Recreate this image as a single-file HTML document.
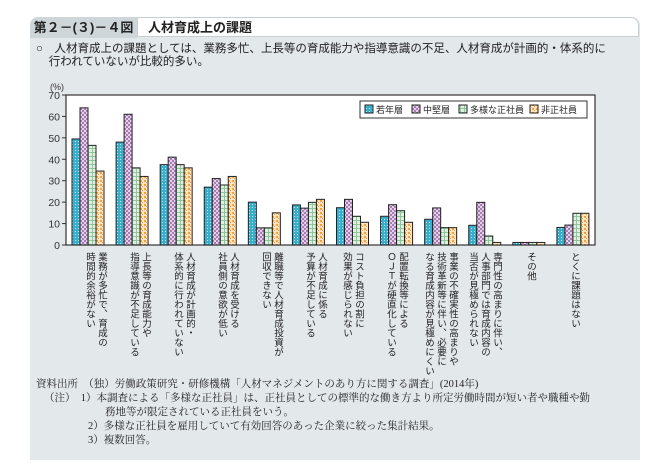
<!DOCTYPE html>
<html><head><meta charset="utf-8"><style>
body{margin:0;width:665px;height:475px;background:#fff;font-family:"Liberation Sans","Noto Sans CJK JP",sans-serif;position:relative;overflow:hidden}
#panel{position:absolute;left:30px;top:17px;width:610px;height:443px;background:#e3e8eb;border-radius:8px 8px 0 0}
#hdr{position:absolute;left:30px;top:17px;width:610px;height:21px}
#hdr .num{position:absolute;left:0;top:0;width:107px;height:21px;background:#cfd6da;font-size:13px;font-weight:bold;line-height:21px;text-align:center;color:#222;border-radius:8px 0 0 0}
#hdr .ttl{position:absolute;left:107px;top:0;width:502px;height:20px;background:#fff;border:1px solid #c8cfd3;border-radius:0 8px 0 0;font-size:13px;font-weight:bold;line-height:20px;padding-left:10px;box-sizing:border-box;color:#222}
.sum{position:absolute;left:36px;top:43px;font-size:11.5px;line-height:13px;color:#222}
.xl{position:absolute;top:252px;writing-mode:vertical-rl;font-size:9.5px;line-height:12px;letter-spacing:0px;color:#222;white-space:nowrap}
.foot{position:absolute;font-family:"Liberation Serif","Noto Serif CJK JP",serif;font-size:10.5px;color:#222;white-space:nowrap}
</style></head><body>
<div id="panel"></div>
<div id="hdr"><div class="num">第２－(３)－４図</div><div class="ttl">人材育成上の課題</div></div>
<div class="sum">○　人材育成上の課題としては、業務多忙、上長等の育成能力や指導意識の不足、人材育成が計画的・体系的に<br>&nbsp;&nbsp;&nbsp;&nbsp;行われていないが比較的多い。</div>
<svg id="chart" width="665" height="475" style="position:absolute;left:0;top:0">
<defs>
<pattern id="p0" width="3" height="3" patternUnits="userSpaceOnUse"><rect width="3" height="3" fill="#3aaecb"/><rect width="1" height="1" fill="#bfe6ee"/></pattern>
<pattern id="p1" width="4" height="4" patternUnits="userSpaceOnUse"><rect width="4" height="4" fill="#e3d0e8"/><rect width="2" height="2" fill="#a77db3"/><rect x="2" y="2" width="2" height="2" fill="#a77db3"/></pattern>
<pattern id="p2" width="4" height="4" patternUnits="userSpaceOnUse"><rect width="4" height="4" fill="#dff0e2"/><rect width="4" height="1" fill="#8fc79b"/><rect width="1" height="4" fill="#8fc79b"/></pattern>
<pattern id="p3" width="4" height="4" patternUnits="userSpaceOnUse"><rect width="4" height="4" fill="#fde3c0"/><rect width="2" height="2" fill="#f5a23e"/><rect x="2" y="2" width="1" height="1" fill="#f5a23e"/></pattern>
</defs>
<rect x="66" y="95" width="529" height="150" fill="#fff" stroke="#333" stroke-width="1.2"/>
<g id="axis"></g><g id="bars"></g>
<text x="50" y="90" font-size="9" fill="#333">(%)</text>
<g>
<rect x="360" y="101" width="227" height="17" fill="#fff" stroke="#333"/>
<g id="leg"></g>
</g>
</svg>
<div class="xl" style="left:83px">業務が多忙で、育成の<br>時間的余裕がない</div>
<div class="xl" style="left:127px">上長等の育成能力や<br>指導意識が不足している</div>
<div class="xl" style="left:171px">人材育成が計画的・<br>体系的に行われていない</div>
<div class="xl" style="left:215px">人材育成を受ける<br>社員側の意欲が低い</div>
<div class="xl" style="left:259px">離職等で人材育成投資が<br>回収できない</div>
<div class="xl" style="left:303px">人材育成に係る<br>予算が不足している</div>
<div class="xl" style="left:340px">コスト負担の割に<br>効果が感じられない</div>
<div class="xl" style="left:384px">配置転換等による<br>ＯＪＴが硬直化している</div>
<div class="xl" style="left:422px">事業の不確実性の高まりや<br>技術革新等に伴い、必要に<br>なる育成内容が見極めにくい</div>
<div class="xl" style="left:466px">専門性の高まりに伴い、<br>人事部門では育成内容の<br>当否が見極められない</div>
<div class="xl" style="left:524px">その他</div>
<div class="xl" style="left:568px">とくに課題はない</div>
<div class="foot" style="left:36px;top:376px">資料出所　（独）労働政策研究・研修機構「人材マネジメントのあり方に関する調査」(2014年)</div>
<div class="foot" style="left:44px;top:390px">（注）　1）本調査による「多様な正社員」は、正社員としての標準的な働き方より所定労働時間が短い者や職種や勤</div>
<div class="foot" style="left:105px;top:404px">務地等が限定されている正社員をいう。</div>
<div class="foot" style="left:88px;top:418px">2）多様な正社員を雇用していて有効回答のあった企業に絞った集計結果。</div>
<div class="foot" style="left:88px;top:432px">3）複数回答。</div>
<script>
const categories=["業務多忙","上長等の育成能力","計画的・体系的","社員側の意欲","離職等","予算不足","コスト負担","配置転換","事業の不確実性","専門性の高まり","その他","とくに課題はない"];
const seriesNames=["若年層","中堅層","多様な正社員","非正社員"];
const young=[49.5,48,37.5,27,20,18.7,17.4,13.4,12,9.2,1.2,8.2];
const mid=[64,61,41,31,8,17.2,21.3,18.8,17.3,19.9,1.2,9.3];
const diverse=[46.5,36,37.5,28,8,19.9,13.4,16,8.1,4.2,1.2,14.8];
const nonreg=[34.5,32,36,32,15,21.3,10.6,10.6,8.1,1.2,1.2,14.8];
const yTicks=[0,10,20,30,40,50,60,70];
const series=[young,mid,diverse,nonreg];
const NS="http://www.w3.org/2000/svg";
const x0=66,x1=595,yTop=95,yBot=245,yMax=70;
const y=v=>yBot-(v/yMax)*(yBot-yTop);
const gw=(x1-x0)/categories.length;
const bw=8;
const xb=(i,j)=>x0+i*gw+6+j*bw;
const ax=document.getElementById('axis');
yTicks.forEach(t=>{
 const l=document.createElementNS(NS,'line');
 l.setAttribute('x1',x0-4);l.setAttribute('x2',x0);l.setAttribute('y1',y(t));l.setAttribute('y2',y(t));l.setAttribute('stroke','#333');
 
 
 ax.appendChild(l);
 const tx=document.createElementNS(NS,'text');
 tx.setAttribute('x',x0-6);tx.setAttribute('y',y(t)+4);tx.setAttribute('text-anchor','end');tx.setAttribute('font-size','10.5');tx.setAttribute('fill','#333');
 tx.textContent=t;
 
 
 ax.appendChild(tx);
});
const bg=document.getElementById('bars');
series.forEach((s,j)=>s.forEach((v,i)=>{
 const r=document.createElementNS(NS,'rect');
 r.setAttribute('x',xb(i,j));r.setAttribute('y',y(v));r.setAttribute('width',bw);r.setAttribute('height',yBot-y(v));
 r.setAttribute('fill','url(#p'+j+')');r.setAttribute('stroke','#222');r.setAttribute('stroke-width','1');
 
 
 bg.appendChild(r);
}));
const lg=document.getElementById('leg');
const lx=[365,412,459,530];
seriesNames.forEach((n,j)=>{
 const r=document.createElementNS(NS,'rect');
 r.setAttribute('x',lx[j]);r.setAttribute('y',105);r.setAttribute('width',8);r.setAttribute('height',8);r.setAttribute('fill','url(#p'+j+')');r.setAttribute('stroke','#222');
 
 
 lg.appendChild(r);
 const t=document.createElementNS(NS,'text');
 t.setAttribute('x',lx[j]+11);t.setAttribute('y',113);t.setAttribute('font-size','9');t.setAttribute('fill','#222');
 t.textContent=n;
 
 
 lg.appendChild(t);
});
</script>
</body></html>
